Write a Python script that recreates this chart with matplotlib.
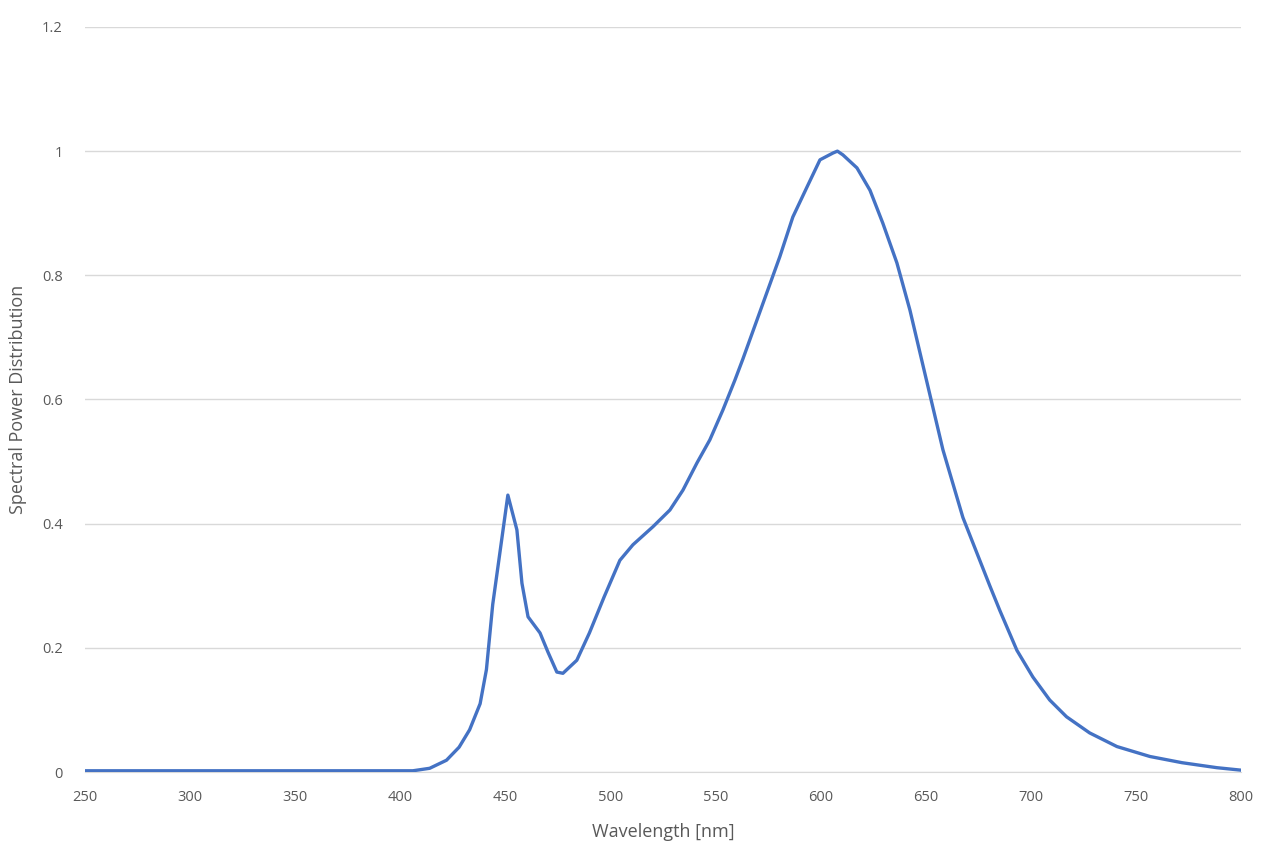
import matplotlib.pyplot as plt

# spectral power distribution
wavelength = [250, 300, 350, 390, 406, 414, 422, 428, 433, 438, 441, 444,
              447.4, 451.2, 455.5, 457.9, 460.8, 466.5, 470.3, 474.5, 477.4,
              484, 490, 497, 504.5, 510.7, 520.2, 528.3, 534.5, 541.2, 547.3,
              553.5, 559.2, 563, 572.6, 580.6, 586.8, 593.5, 599.7, 605.9,
              608, 610.6, 617.3, 623.5, 629.6, 636.3, 642.5, 648.7, 658.2,
              667.7, 680.5, 685.3, 693.4, 701, 709, 717, 728, 741, 756.7,
              772, 788.5, 800]
spd = [0.002, 0.002, 0.002, 0.002, 0.002, 0.006, 0.019, 0.04, 0.068, 0.11,
       0.165, 0.27, 0.353, 0.446, 0.39, 0.304, 0.25, 0.224, 0.193, 0.161,
       0.159, 0.18, 0.224, 0.282, 0.341, 0.366, 0.395, 0.422, 0.454, 0.498,
       0.535, 0.583, 0.631, 0.665, 0.755, 0.83, 0.894, 0.942, 0.986, 0.997,
       1.0, 0.994, 0.973, 0.937, 0.884, 0.82, 0.744, 0.655, 0.519, 0.41,
       0.30, 0.26, 0.196, 0.153, 0.116, 0.089, 0.063, 0.041, 0.025, 0.015,
       0.007, 0.003]

x_ticks = [250, 300, 350, 400, 450, 500, 550, 600, 650, 700, 750, 800]
y_ticks = [0, 0.2, 0.4, 0.6, 0.8, 1, 1.2]
y_tick_labels = ["0", "0.2", "0.4", "0.6", "0.8", "1", "1.2"]

plt.rcParams['font.family'] = ['Open Sans', 'DejaVu Sans']

fig = plt.figure(figsize=(12.61, 8.48), dpi=100)
ax = fig.add_axes([0.0674, 0.0896, 0.9167, 0.8786])

ax.plot(wavelength, spd, color="#4472C4", linewidth=2.4, zorder=3)

ax.set_xlim(250, 800)
ax.set_ylim(0, 1.2)
ax.set_xticks(x_ticks)
ax.set_yticks(y_ticks)
ax.set_yticklabels(y_tick_labels)
ax.grid(axis="y", color="#D9D9D9", linewidth=1)
ax.set_axisbelow(True)
for s in ["top", "right", "left"]:
    ax.spines[s].set_visible(False)
ax.spines["bottom"].set_color("#D9D9D9")
ax.tick_params(length=0, labelsize=10.5, labelcolor="#595959")
ax.tick_params(axis="x", pad=13)
ax.tick_params(axis="y", pad=16)

ax.set_xlabel("Wavelength [nm]", fontsize=13, color="#595959")
ax.set_ylabel("Spectral Power Distribution", fontsize=13, color="#595959")
ax.xaxis.set_label_coords(0.5, -0.068)
ax.yaxis.set_label_coords(-0.05, 0.5)

fig.savefig("out.png", dpi=100)
